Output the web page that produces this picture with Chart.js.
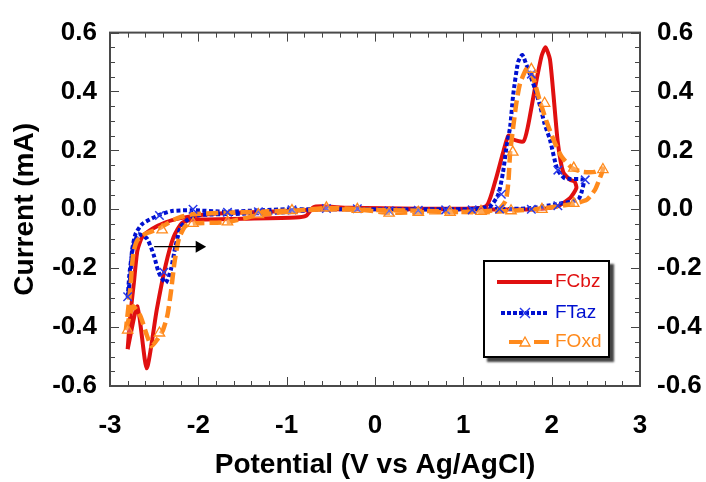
<!DOCTYPE html>
<html>
<head>
<meta charset="utf-8">
<script src="https://cdn.jsdelivr.net/npm/chart.js@4.4.1/dist/chart.umd.min.js"></script>
<style>
  body { margin: 0; background: #fff; }
  #wrap { position: relative; width: 706px; height: 482px; }
  #legend {
    position: absolute; left: 483px; top: 260px; width: 123px; height: 94px;
    border: 2px solid #000; background: #fff; box-shadow: 4px 4px 2px #444;
    font-family: 'Liberation Sans', Arial, sans-serif; font-size: 19px;
  }
  #legend .row { position: absolute; left: 10px; height: 24px; }
  #legend svg { position: absolute; left: 0; top: 4px; }
  #legend span { position: absolute; left: 60px; top: 1px; line-height: 20px; }
</style>
</head>
<body>
<div id="wrap">
  <canvas id="cv-plot" width="706" height="482"></canvas>
  <div id="legend">
    <div class="row" style="top:8px">
      <svg width="58" height="16"><line x1="2" y1="8" x2="57" y2="8" stroke="#e01010" stroke-width="4"/></svg>
      <span style="color:#e01010">FCbz</span>
    </div>
    <div class="row" style="top:39px">
      <svg width="58" height="16"><line x1="6" y1="8" x2="54" y2="8" stroke="#0010d0" stroke-width="4" stroke-dasharray="4 2"/>
        <line x1="25" y1="3" x2="35" y2="13" stroke="#2a3ae8" stroke-width="1.5"/><line x1="35" y1="3" x2="25" y2="13" stroke="#2a3ae8" stroke-width="1.5"/></svg>
      <span style="color:#0010d0">FTaz</span>
    </div>
    <div class="row" style="top:68px">
      <svg width="58" height="16"><line x1="14" y1="8" x2="27" y2="8" stroke="#ff8a1c" stroke-width="4"/>
        <line x1="39" y1="8" x2="54" y2="8" stroke="#ff8a1c" stroke-width="4"/>
        <polygon points="30,3 35,12 25,12" fill="none" stroke="#ff8a1c" stroke-width="1.3"/></svg>
      <span style="color:#ff8a1c">FOxd</span>
    </div>
  </div>
</div>
<script>
// valores (V vs Ag/AgCl, mA)
const fcbzX = [-2.80, -2.69, -2.585, -2.47, -2.37, -2.28, -2.18, -2.0, -1.5, -0.9, -0.78, -0.70, -0.6, -0.3, 0.5, 1.0, 1.26, 1.36, 1.45, 1.51, 1.565, 1.68, 1.73, 1.81, 1.885, 1.93, 1.98, 2.02, 2.07, 2.13, 2.21, 2.26, 2.28, 2.21, 2.07, 1.85, 1.0, 0.0, -0.6, -1.0, -1.6, -2.0, -2.2, -2.37, -2.52, -2.635, -2.69, -2.73, -2.77, -2.80];
const fcbzY = [-0.475, -0.33, -0.54, -0.34, -0.19, -0.094, -0.045, -0.035, -0.032, -0.028, -0.022, 0.006, 0.01, 0.005, 0.002, 0.002, 0.011, 0.094, 0.193, 0.25, 0.237, 0.23, 0.28, 0.41, 0.52, 0.55, 0.51, 0.39, 0.226, 0.127, 0.10, 0.094, 0.072, 0.039, 0.011, 0.0, 0.0, 0.0, 0.0, -0.006, -0.012, -0.02, -0.03, -0.044, -0.066, -0.094, -0.14, -0.25, -0.36, -0.475];

const ftazX = [-2.80, -2.78, -2.74, -2.68, -2.58, -2.50, -2.45, -2.37, -2.31, -2.26, -2.20, -2.11, -2.0, -1.5, -1.0, -0.6, 0.0, 1.0, 1.3, 1.395, 1.45, 1.49, 1.53, 1.565, 1.62, 1.667, 1.715, 1.754, 1.81, 1.87, 1.92, 1.98, 2.04, 2.07, 2.15, 2.36, 2.34, 2.30, 2.05, 1.73, 1.0, 0.0, -1.0, -1.7, -2.07, -2.30, -2.465, -2.635, -2.71, -2.75, -2.77, -2.80];
const ftazY = [-0.30, -0.22, -0.13, -0.085, -0.10, -0.16, -0.213, -0.25, -0.204, -0.127, -0.06, -0.033, -0.02, -0.015, -0.01, 0.0, 0.0, 0.0, 0.01, 0.05, 0.127, 0.215, 0.28, 0.39, 0.50, 0.524, 0.49, 0.458, 0.41, 0.35, 0.29, 0.237, 0.16, 0.132, 0.105, 0.10, 0.06, 0.033, 0.017, 0.003, 0.0, 0.0, 0.0, -0.008, -0.003, -0.006, -0.022, -0.05, -0.083, -0.138, -0.226, -0.30];
const ftazMarkX = [-2.80, -2.44, -2.39, -2.06, -1.67, -1.32, -0.94, -0.55, -0.20, 0.16, 0.49, 0.80, 1.10, 1.43, 1.41, 1.77, 1.77, 2.07, 2.07, 2.38];
const ftazMarkY = [-0.297, -0.021, -0.214, 0.0, -0.01, -0.008, -0.002, 0.003, 0.002, -0.005, -0.003, -0.002, -0.002, 0.051, 0.001, 0.0, 0.459, 0.133, 0.012, 0.10];

const foxdX = [-2.82, -2.74, -2.66, -2.58, -2.53, -2.46, -2.40, -2.35, -2.31, -2.27, -2.22, -2.15, -2.06, -1.67, -1.32, -0.94, -0.55, -0.2, 0.16, 0.49, 0.85, 1.2, 1.40, 1.48, 1.51, 1.53, 1.565, 1.60, 1.64, 1.70, 1.73, 1.79, 1.87, 1.94, 2.02, 2.11, 2.24, 2.36, 2.49, 2.58, 2.53, 2.49, 2.40, 2.22, 1.885, 1.55, 1.17, 0.5, -0.5, -1.0, -1.5, -2.07, -2.26, -2.45, -2.60, -2.69, -2.73, -2.75, -2.77, -2.82];
const foxdY = [-0.41, -0.33, -0.36, -0.43, -0.465, -0.44, -0.41, -0.36, -0.28, -0.18, -0.10, -0.058, -0.048, -0.043, -0.02, -0.006, 0.004, 0.0, -0.012, -0.01, -0.01, -0.007, 0.0, 0.03, 0.094, 0.193, 0.28, 0.36, 0.425, 0.47, 0.48, 0.447, 0.364, 0.30, 0.237, 0.18, 0.138, 0.127, 0.127, 0.138, 0.094, 0.066, 0.033, 0.017, 0.003, -0.005, -0.01, -0.005, 0.0, -0.005, -0.01, -0.017, -0.033, -0.066, -0.083, -0.105, -0.14, -0.19, -0.27, -0.41];
const foxdMarkX = [-2.80, -2.44, -2.41, -2.06, -1.67, -1.32, -0.94, -0.55, -0.20, 0.16, 0.49, 0.85, 1.20, 1.54, 1.56, 1.77, 1.92, 2.25, 2.58, 2.25, 1.89];
const foxdMarkY = [-0.41, -0.42, -0.07, -0.048, -0.043, -0.018, -0.004, 0.005, 0.0, -0.013, -0.01, -0.01, -0.007, -0.005, 0.194, 0.475, 0.36, 0.14, 0.135, 0.02, 0.0];

// flecha de direccion de barrido
const arrowX = [-2.50, -1.99];
const arrowY = [-0.127, -0.127];

const xTicks = [-3, -2, -1, 0, 1, 2, 3];
const yTicks = [-0.6, -0.4, -0.2, 0.0, 0.2, 0.4, 0.6];

function toPoints(xs, ys) {
    return xs.map((v, i) => ({ x: v, y: ys[i] }));
}

const RED = '#e01010', BLUE = '#0010d0', ORANGE = '#ff8a1c';
Chart.defaults.font.family = "'Liberation Sans', Arial, sans-serif";
Chart.defaults.color = '#000';

// marco y marcas hacia adentro
const innerTicks = {
    id: 'innerTicks',
    beforeDatasetsDraw(chart) {
        const { ctx, chartArea: a, scales } = chart;
        const x = scales.x, y = scales.y;
        ctx.save();
        ctx.strokeStyle = '#444';
        ctx.lineWidth = 1;
        ctx.beginPath();
        for (let i = 0; i <= 30; i++) {
            const px = Math.round(x.getPixelForValue(xTicks[0] + i * 0.2)) + 0.5;
            const len = i % 5 === 0 ? 9 : 5;
            ctx.moveTo(px, a.bottom); ctx.lineTo(px, a.bottom - len);
            ctx.moveTo(px, a.top); ctx.lineTo(px, a.top + len);
        }
        for (let i = 0; i <= 24; i++) {
            const py = Math.round(y.getPixelForValue(yTicks[0] + i * 0.05)) + 0.5;
            const len = i % 4 === 0 ? 9 : 5;
            ctx.moveTo(a.left, py); ctx.lineTo(a.left + len, py);
            ctx.moveTo(a.right, py); ctx.lineTo(a.right - len, py);
        }
        ctx.stroke();
        ctx.lineWidth = 2;
        ctx.strokeStyle = '#4a4a4a';
        ctx.strokeRect(a.left, a.top, a.right - a.left, a.bottom - a.top);
        ctx.restore();
    }
};

const tickFont = { size: 26, weight: 'bold' };
const titleFont = { size: 28, weight: 'bold' };

let ctx = document.getElementById('cv-plot').getContext('2d');
let cvChart = new Chart(ctx, {
    type: 'scatter',
    data: {
        datasets: [
            {
                label: 'flecha', data: toPoints(arrowX, arrowY), showLine: true,
                borderColor: '#000', borderWidth: 1.3, backgroundColor: '#000',
                pointStyle: 'triangle', rotation: 90, pointRadius: [0, 7], pointBorderWidth: 0, order: -2
            },
            {
                label: 'FOxd marks', data: toPoints(foxdMarkX, foxdMarkY), showLine: false,
                pointStyle: 'triangle', pointRadius: 6, borderColor: ORANGE, borderWidth: 1.3,
                backgroundColor: 'rgba(255,255,255,0.25)', order: -1
            },
            {
                label: 'FTaz marks', data: toPoints(ftazMarkX, ftazMarkY), showLine: false,
                pointStyle: 'crossRot', pointRadius: 6, borderColor: '#2a3ae8', borderWidth: 1.5, order: -1
            },
            {
                label: 'FOxd', data: toPoints(foxdX, foxdY), showLine: true, tension: 0.2,
                borderColor: ORANGE, borderWidth: 4.5, borderDash: [12, 5], pointRadius: 0, order: 0
            },
            {
                label: 'FTaz', data: toPoints(ftazX, ftazY), showLine: true, tension: 0.2,
                borderColor: BLUE, borderWidth: 4, borderDash: [4, 2.5], pointRadius: 0, order: 1
            },
            {
                label: 'FCbz', data: toPoints(fcbzX, fcbzY), showLine: true, tension: 0.2,
                borderColor: RED, borderWidth: 4, pointRadius: 0, order: 2
            }
        ]
    },
    options: {
        responsive: false,
        animation: false,
        layout: { padding: { top: 24, left: 0, right: 0, bottom: 0 } },
        plugins: { legend: { display: false }, tooltip: { enabled: false } },
        scales: {
            x: {
                type: 'linear', position: 'bottom', min: -3, max: 3,
                grid: { display: false, drawTicks: false }, border: { display: false },
                afterBuildTicks: s => { s.ticks = xTicks.map(v => ({ value: v })); },
                ticks: { font: tickFont, color: '#000', padding: 24, callback: v => String(v) },
                title: { display: true, text: 'Potential (V vs Ag/AgCl)', font: titleFont, color: '#000', padding: { top: 0, bottom: 0 } },
                afterFit: s => { s.height = 96; }
            },
            y: {
                type: 'linear', position: 'left', min: -0.6, max: 0.6,
                grid: { display: false, drawTicks: false }, border: { display: false },
                afterBuildTicks: s => { s.ticks = yTicks.map(v => ({ value: v })); },
                ticks: { font: tickFont, color: '#000', padding: 13, callback: v => v.toFixed(1) },
                title: { display: true, text: 'Current (mA)', font: titleFont, color: '#000', padding: { top: 8, bottom: 0 } },
                afterFit: s => { s.width = 110; }
            },
            y2: {
                type: 'linear', position: 'right', min: -0.6, max: 0.6,
                grid: { display: false, drawTicks: false }, border: { display: false },
                afterBuildTicks: s => { s.ticks = yTicks.map(v => ({ value: v })); },
                ticks: { font: tickFont, color: '#000', padding: 17, callback: v => v.toFixed(1) },
                afterFit: s => { s.width = 66; }
            }
        }
    },
    plugins: [innerTicks]
});
</script>
</body>
</html>
